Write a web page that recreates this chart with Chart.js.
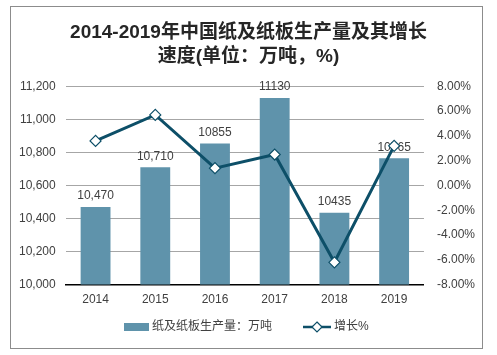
<!DOCTYPE html>
<html><head><meta charset="utf-8">
<script src="https://cdn.jsdelivr.net/npm/chart.js@4.4.0/dist/chart.umd.min.js"></script>
<style>html,body{margin:0;padding:0;background:#fff}#wrap{width:497px;height:355px}</style>
</head><body><div id="wrap"><canvas id="c" width="497" height="355"></canvas></div>
<script>
const categories = ['2014','2015','2016','2017','2018','2019'];
const production = [10470, 10710, 10855, 11130, 10435, 10765];
const productionLabels = ['10,470','10,710','10855','11130','10435','10765'];
const growth = [3.6, 5.7, 1.4, 2.5, -6.2, 3.2];
const titleLines = ['2014-2019年中国纸及纸板生产量及其增长','速度(单位：万吨，%)'];
const seriesNames = ['纸及纸板生产量：万吨','增长%'];

const FONT = "Arial, 'Liberation Sans', 'Noto Sans CJK SC', sans-serif";
const BAR = '#5f93ab';
const LINE = '#0d4f68';
const TXT = '#404040';

const extras = {
  id: 'extras',
  afterDatasetDraw(chart, args) {
    if (args.index !== 1) return;
    const ctx = chart.ctx;
    const meta = chart.getDatasetMeta(1);
    ctx.save();
    ctx.font = '12px ' + FONT;
    ctx.fillStyle = TXT;
    ctx.textAlign = 'center';
    ctx.textBaseline = 'bottom';
    meta.data.forEach((el, i) => {
      ctx.fillText(productionLabels[i], el.x, el.y - 5);
    });
    ctx.restore();
  },
  afterDraw(chart) {
    const ctx = chart.ctx;
    ctx.save();
    ctx.strokeStyle = '#8c8c8c';
    ctx.lineWidth = 1;
    ctx.strokeRect(10.5, 6.5, 472, 342);
    ctx.font = '12px ' + FONT;
    ctx.textBaseline = 'middle';
    const ly = 327;
    ctx.fillStyle = BAR;
    ctx.fillRect(124, ly - 4, 25, 8);
    ctx.fillStyle = TXT;
    ctx.textAlign = 'left';
    ctx.fillText(seriesNames[0], 152, ly);
    ctx.strokeStyle = LINE;
    ctx.lineWidth = 2.5;
    ctx.beginPath(); ctx.moveTo(303, ly); ctx.lineTo(331, ly); ctx.stroke();
    ctx.fillStyle = '#fff';
    ctx.lineWidth = 1.2;
    ctx.beginPath();
    ctx.moveTo(317, ly - 5); ctx.lineTo(322, ly); ctx.lineTo(317, ly + 5); ctx.lineTo(312, ly); ctx.closePath();
    ctx.fill(); ctx.stroke();
    ctx.fillStyle = TXT;
    ctx.fillText(seriesNames[1], 334, ly);
    ctx.restore();
  }
};

new Chart(document.getElementById('c'), {
  data: {
    labels: categories,
    datasets: [
      {
        type: 'line', label: seriesNames[1], data: growth, yAxisID: 'y1',
        borderColor: LINE, borderWidth: 3, pointStyle: 'rectRot', pointRadius: 5.5,
        pointBackgroundColor: '#fff', pointBorderColor: LINE, pointBorderWidth: 1.2,
        tension: 0, order: 0
      },
      {
        type: 'bar', label: seriesNames[0], data: production, yAxisID: 'y',
        backgroundColor: BAR, barPercentage: 0.5, categoryPercentage: 1.0, order: 1
      }
    ]
  },
  options: {
    responsive: false, animation: false,
    layout: { padding: { left: 9, right: 9, top: 0, bottom: 40 } },
    plugins: {
      legend: { display: false },
      tooltip: { enabled: false },
      title: {
        display: true, text: titleLines, color: '#262626',
        font: { family: FONT, size: 19, weight: 'bold', lineHeight: 1.3 },
        padding: { top: 20, bottom: 17 }
      }
    },
    scales: {
      x: {
        grid: { display: false, drawTicks: false },
        border: { color: '#000', width: 1.5 },
        ticks: { color: TXT, font: { family: FONT, size: 12 }, padding: 8 }
      },
      y: {
        position: 'left', min: 10000, max: 11200,
        grid: { color: '#a6a6a6', drawTicks: false },
        border: { display: false },
        ticks: { stepSize: 200, color: TXT, font: { family: FONT, size: 12 }, padding: 10,
          callback: v => v.toLocaleString('en-US') }
      },
      y1: {
        position: 'right', min: -8, max: 8,
        grid: { display: false, drawTicks: false },
        border: { display: false },
        ticks: { stepSize: 2, color: TXT, font: { family: FONT, size: 12 }, padding: 13,
          callback: v => v.toFixed(2) + '%' }
      }
    }
  },
  plugins: [extras]
});
</script>
</body></html>
